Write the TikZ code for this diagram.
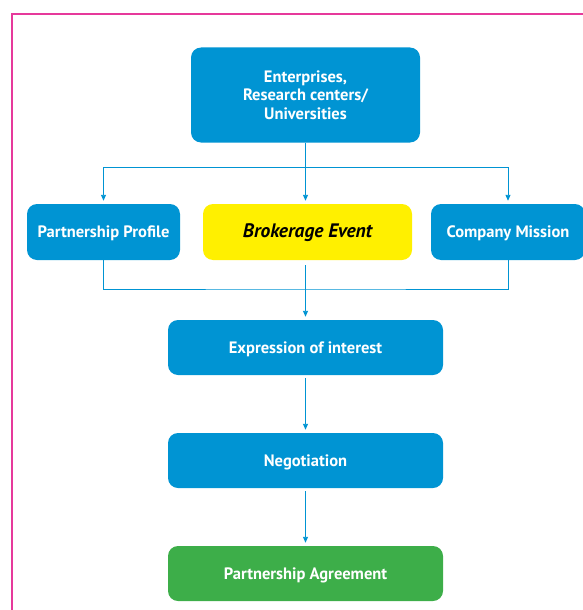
\documentclass[tikz,border=0pt]{standalone}
\usepackage{fontspec}
\setmainfont{PT Sans}
\usetikzlibrary{arrows.meta}
\definecolor{fblue}{HTML}{0094D3}
\definecolor{fyellow}{HTML}{FFF000}
\definecolor{fgreen}{HTML}{3DAE49}
\definecolor{fmag}{HTML}{E6399B}
\tikzset{
  box/.style={rectangle, rounded corners=10pt, fill=fblue, text=white, font=\fontsize{16.5}{18.5}\selectfont\bfseries, align=center, inner sep=0pt},
  one/.style={text height=11pt, text depth=0pt},
  conn/.style={draw=fblue, line width=0.9pt},
  arr/.style={conn, -{Triangle[length=6pt,width=5pt]}, shorten >=3pt}
}
\begin{document}
\begin{tikzpicture}[x=1pt,y=-1pt]
\useasboundingbox (0,0) rectangle (582,610);
\draw[fmag, line width=2pt] (11.5,640) -- (11.5,14) -- (620,14);
\node[box, minimum width=229pt, minimum height=95pt] (top) at (305.5,95) {Enterprises,\\Research centers/\\Universities};
\node[box, one, minimum width=153pt, minimum height=56pt] (pp) at (103.5,232) {Partnership Profile};
\node[box, one, fill=fyellow, text=black, font=\fontsize{19.5}{22}\selectfont\bfseries\itshape, minimum width=209pt, minimum height=56pt] (be) at (307.5,232) {Brokerage Event};
\node[box, one, minimum width=154pt, minimum height=56pt] (cm) at (508,232) {Company Mission};
\node[box, one, minimum width=275pt, minimum height=55pt] (ex) at (305.5,347.5) {Expression of interest};
\node[box, one, minimum width=275pt, minimum height=55pt] (ng) at (305.5,460.5) {Negotiation};
\node[box, one, fill=fgreen, minimum width=275pt, minimum height=55pt] (ag) at (305.5,573.5) {Partnership Agreement};
\coordinate (j1) at (305.5,167);
\coordinate (j2) at (305.5,289);
\draw[conn] (top.south) -- (j1);
\draw[arr] (j1) -| (pp.north);
\draw[arr] (j1) -| (cm.north);
\draw[arr] (j1) -- (j1 |- be.north);
\draw[conn] (pp.south) |- (j2) -| (cm.south);
\draw[arr, shorten <=5pt] (j2 |- be.south) -- (ex.north);
\draw[arr, shorten <=3pt] (ex.south) -- (ng.north);
\draw[arr, shorten <=3pt] (ng.south) -- (ag.north);
\end{tikzpicture}
\end{document}
